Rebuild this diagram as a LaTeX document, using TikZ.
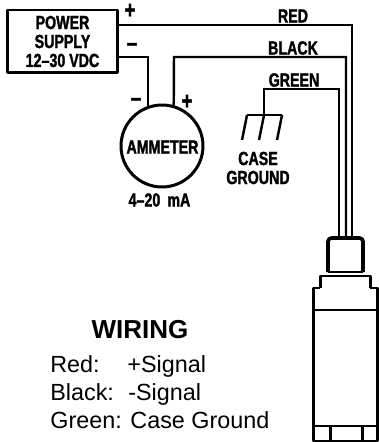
\documentclass[tikz,border=0pt]{standalone}
\usepackage{fontspec}
\setmainfont{Liberation Sans}
\newfontfamily\cadfont[FakeStretch=0.75,FakeBold=1.6]{Liberation Sans Bold}
\tikzset{
  wire/.style={line width=1.4pt},
  part/.style={line width=1.7pt,line join=round},
  cadlabel/.style={font=\cadfont\fontsize{10.8}{10.8}\selectfont,inner sep=0pt,align=center},
  polarity/.style={font=\cadfont\fontsize{14}{14}\selectfont,inner sep=0pt},
  legend/.style={font=\fontsize{13.3}{15}\selectfont,anchor=base west,inner sep=0pt}
}
\begin{document}
\begin{tikzpicture}[x=0.02cm,y=-0.02cm]
   \useasboundingbox (0,0) rectangle (378,442);
   % power supply and ammeter
   \node[part,draw,cadlabel,minimum width=2.22cm,minimum height=1.26cm] (psu) at (62.5,41.5) {POWER\\SUPPLY\\12–30 VDC};
   \node[part,draw,circle,minimum size=1.64cm,inner sep=0pt] (ammeter) at (162,146) {};
   \node[cadlabel] (ammetertext) at (162.5,147) {AMMETER};
   \node[cadlabel] (ammeterrange) at (159.5,200) {4–20 \,mA};
   \node[polarity] (psuplus) at (130,11) {+};
   \node[polarity] (psuminus) at (132,47) {–};
   \node[polarity] (amminus) at (136,102) {–};
   \node[polarity] (amplus) at (187,102) {+};
   % wire ends
   \coordinate (psured) at (psu.east |- 0,25);
   \coordinate (psublack) at (psu.east |- 0,57);
   \coordinate (amleft) at (ammeter.111);
   \coordinate (amright) at (ammeter.74);
   \coordinate (sensorred) at (352,240);
   \coordinate (sensorblack) at (346,240);
   \coordinate (sensorgreen) at (339,240);
   \coordinate (groundtop) at (264,115);
   % wires
   \draw[wire] (psured) -- (352,25) -- (sensorred);
   \draw[wire] (psublack) -- (148,57) -- (148,57 |- amleft);
   \draw[wire] (amright) -- (174,57) -- (346,57) -- (sensorblack);
   \draw[wire] (sensorgreen) -- (339,89) -- (264,89) -- (groundtop);
   \node[cadlabel] (redlabel) at (293,16) {RED};
   \node[cadlabel] (blacklabel) at (293,48) {BLACK};
   \node[cadlabel] (greenlabel) at (294,80) {GREEN};
   % case ground
   \draw[wire] (247,115) -- (282,115);
   \draw[wire] (247,115) -- (242,140);
   \draw[wire] (groundtop) -- (259,140);
   \draw[wire] (282,115) -- (277,140);
   \node[cadlabel] (groundtext) at (258,168) {CASE\\GROUND};
   % sensor
   \draw[part,line width=2.1pt,fill=white,rounded corners=2pt] (328,272) -- (328,238) -- (363,238) -- (363,272);
   \draw[wire] (328,272) -- (363,272);
   \draw[part] (320,288) -- (320,276) -- (370,276) -- (370,288);
   \draw[part] (320,288) -- (313,288) -- (313,441) -- (377,441) -- (377,288) -- (370,288);
   \draw[part] (313,310) -- (377,310);
   \draw[part] (313,426) -- (377,426);
   \draw[part] (330,426) -- (330,441);
   \draw[part] (362,426) -- (362,441);
   % legend
   \node[font=\bfseries\fontsize{14.8}{16}\selectfont,inner sep=0pt] (wiringtitle) at (140,330) {WIRING};
   \node[legend] (legendred) at (50,372) {Red:};
   \node[legend] (legendredsig) at (127,372) {+Signal};
   \node[legend] (legendblack) at (50,400) {Black:};
   \node[legend] (legendblacksig) at (128,400) {-Signal};
   \node[legend] (legendgreen) at (50,428) {Green: Case Ground};
\end{tikzpicture}
\end{document}
